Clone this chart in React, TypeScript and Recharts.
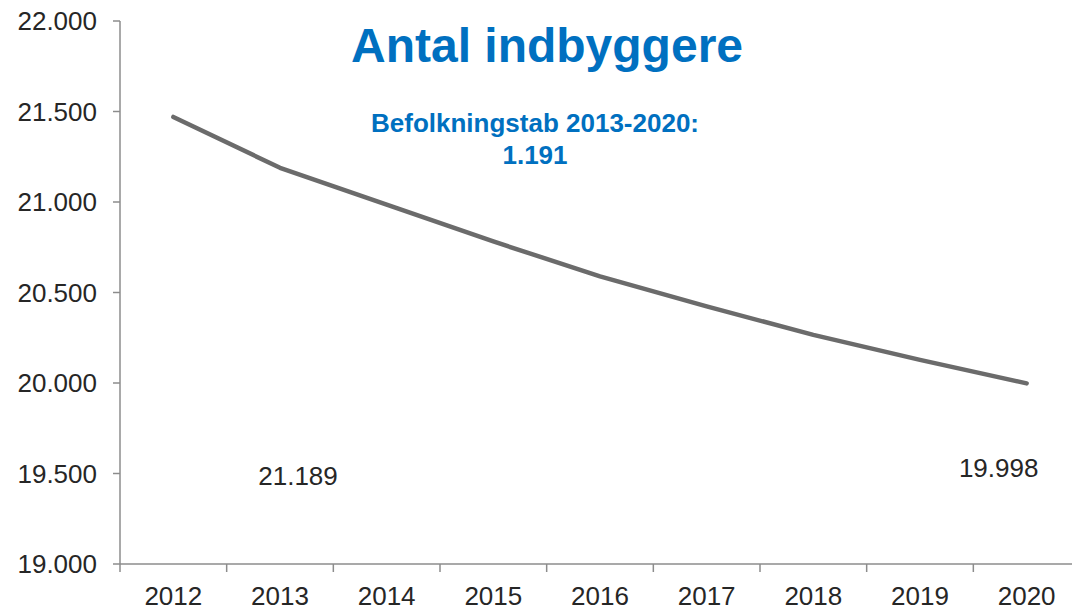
import React from 'react';
import { ComposedChart, Line, XAxis, YAxis, ReferenceDot } from 'recharts';

// ---- data ----
const years = ['2012', '2013', '2014', '2015', '2016', '2017', '2018', '2019', '2020'];
const population = [21470, 21189, 20985, 20782, 20589, 20423, 20266, 20128, 19998];
const yTicks = [19000, 19500, 20000, 20500, 21000, 21500, 22000];
const titleText = 'Antal indbyggere';
const subtitleLines = ['Befolkningstab 2013-2020:', '1.191'];
// data labels shown (year index, y-level on the value axis where text sits, horizontal nudge)
const labelIndexes = [1, 8];
const labelLevels = [19490, 19530];
const labelNudges = [18, -28];

const data = years.map((y, i) => ({ year: y, population: population[i] }));

const fmt = (v: number) => {
  const s = Math.round(v).toString();
  return s.replace(/\B(?=(\d{3})+(?!\d))/g, '.');
};

// ---- layout ----
const FONT = '"Liberation Sans", Arial, Helvetica, sans-serif';
const CHART_W = 1080;
const CHART_H = 605;
const Y_W = 120;
const BW = (CHART_W - Y_W) / years.length;
const AXIS_COLOR = '#8c8c8c';
const TEXT_COLOR = '#262626';
const BLUE = '#0070C0';
const TICK_SIZE = 8;
const TICK_MARGIN = 15;

const XTick = (props: any) => {
  const { x, y, payload } = props;
  const bx = x - BW / 2;
  const axisY = y - TICK_SIZE - TICK_MARGIN;
  return (
    <g>
      <line x1={bx} x2={bx} y1={axisY} y2={axisY + TICK_SIZE} stroke={AXIS_COLOR} strokeWidth={1.5} />
      <text x={x} y={y} dy="0.71em" textAnchor="middle" fill={TEXT_COLOR} fontSize={26} fontFamily={FONT}>
        {payload.value}
      </text>
    </g>
  );
};

export default function App() {
  return (
    <div style={{ position: 'fixed', left: 0, top: 0, width: 1072, height: 605, overflow: 'hidden', background: '#fff' }}>
      <ComposedChart
        width={CHART_W}
        height={CHART_H}
        data={data}
        margin={{ top: 21, right: 0, bottom: 0, left: 0 }}
      >
        <XAxis
          dataKey="year"
          scale="band"
          height={41}
          tickLine={false}
          tickSize={TICK_SIZE}
          tickMargin={TICK_MARGIN}
          axisLine={{ stroke: AXIS_COLOR, strokeWidth: 1.5 }}
          tick={<XTick />}
          interval={0}
        />
        <YAxis
          width={Y_W}
          domain={[19000, 22000]}
          ticks={yTicks}
          interval={0}
          tickFormatter={fmt}
          tickSize={7}
          tickMargin={16}
          axisLine={{ stroke: AXIS_COLOR, strokeWidth: 1.5 }}
          tickLine={{ stroke: AXIS_COLOR, strokeWidth: 1.5 }}
          tick={{ fill: TEXT_COLOR, fontSize: 26, fontFamily: FONT }}
        />
        <Line
          type="linear"
          dataKey="population"
          stroke="#6b6b6b"
          strokeWidth={4.5}
          strokeLinecap="round"
          strokeLinejoin="round"
          dot={false}
          isAnimationActive={false}
        />
        {labelIndexes.map((idx, k) => (
          <ReferenceDot
            key={idx}
            x={years[idx]}
            y={labelLevels[k]}
            r={0}
            shape={(p: any) => (
              <text
                x={p.cx + labelNudges[k]}
                y={p.cy}
                dy="0.355em"
                textAnchor="middle"
                fill={TEXT_COLOR}
                fontSize={26}
                fontFamily={FONT}
              >
                {fmt(population[idx])}
              </text>
            )}
          />
        ))}
      </ComposedChart>
      <svg width={1072} height={605} style={{ position: 'absolute', left: 0, top: 0, pointerEvents: 'none' }}>
        <text x={547} y={62} textAnchor="middle" fill={BLUE} fontSize={48} fontWeight="bold" fontFamily={FONT}>
          {titleText}
        </text>
        <text x={535} y={131.5} textAnchor="middle" fill={BLUE} fontSize={26} fontWeight="bold" fontFamily={FONT}>
          {subtitleLines[0]}
        </text>
        <text x={535} y={164} textAnchor="middle" fill={BLUE} fontSize={26} fontWeight="bold" fontFamily={FONT}>
          {subtitleLines[1]}
        </text>
      </svg>
    </div>
  );
}
